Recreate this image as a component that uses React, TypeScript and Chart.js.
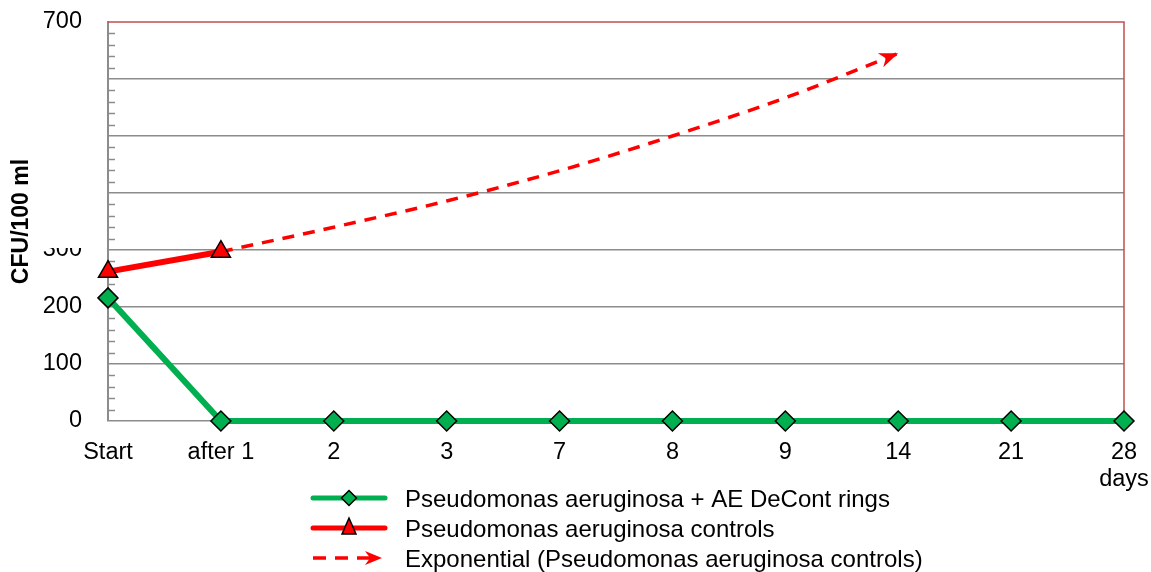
import React, { useEffect, useRef } from "react";
import { Chart, registerables } from "chart.js";

Chart.register(...registerables);

// Sampling days along the x axis
const dayLabels: (string | string[])[] = ["Start", "after 1", "2", "3", "7", "8", "9", "14", "21", ["28", "days"]];

// CFU/100 ml counts
const treatedCounts: (number | null)[] = [216, 0, 0, 0, 0, 0, 0, 0, 0, 0];
const controlCounts: (number | null)[] = [262, 297, null, null, null, null, null, null, null, null];
const controlTrend: (number | null)[] = [null, 297, 340, 386, 439, 500, 567, 645, null, null];

// Y axis values that carry a printed label
const yLabelValues = [0, 100, 200, 300, 700];

const legendNames = [
  "Pseudomonas aeruginosa + AE DeCont rings",
  "Pseudomonas aeruginosa controls",
  "Exponential (Pseudomonas aeruginosa controls)",
];

const GREEN = "#00b050";
const RED = "#ff0000";
const GRID = "#8c8c8c";
const FRAME = "#c0504d";
const FONT = "'Liberation Sans', Arial, sans-serif";

function drawArrowHead(ctx: CanvasRenderingContext2D, x: number, y: number, angle: number, len: number, half: number) {
  ctx.save();
  ctx.translate(x, y);
  ctx.rotate(angle);
  ctx.beginPath();
  ctx.moveTo(0, 0);
  ctx.lineTo(-len, -half);
  ctx.lineTo(-len * 0.7, 0);
  ctx.lineTo(-len, half);
  ctx.closePath();
  ctx.fillStyle = RED;
  ctx.fill();
  ctx.restore();
}

const framePlugin = {
  id: "frame",
  beforeDatasetsDraw(chart: any) {
    const { ctx, chartArea, scales } = chart;
    const y = scales.y;
    ctx.save();
    // minor ticks inside the value axis
    ctx.strokeStyle = GRID;
    ctx.lineWidth = 1.5;
    for (let v = 0; v <= 700; v += 20) {
      if (v % 100 === 0) continue;
      const py = Math.round(y.getPixelForValue(v)) + 0.5;
      ctx.beginPath();
      ctx.moveTo(chartArea.left, py);
      ctx.lineTo(chartArea.left + 7, py);
      ctx.stroke();
    }
    // top and right edges of the plot area
    ctx.strokeStyle = FRAME;
    ctx.lineWidth = 1.5;
    ctx.beginPath();
    ctx.moveTo(chartArea.left, chartArea.top);
    ctx.lineTo(chartArea.right, chartArea.top);
    ctx.lineTo(chartArea.right, chartArea.bottom);
    ctx.stroke();
    ctx.restore();
  },
  afterDatasetsDraw(chart: any) {
    const { ctx } = chart;
    // arrow head at the end of the exponential trend
    const meta = chart.getDatasetMeta(2);
    let last = -1;
    controlTrend.forEach((v, i) => {
      if (v !== null) last = i;
    });
    if (last > 0) {
      const p = meta.data[last];
      const q = meta.data[last - 1];
      const ang = Math.atan2(p.y - q.y, p.x - q.x);
      drawArrowHead(ctx, p.x, p.y, ang, 19, 7.5);
    }
  },
  afterDraw(chart: any) {
    const { ctx } = chart;
    ctx.save();
    // mask across the upper part of the value labels
    ctx.fillStyle = "#ffffff";
    ctx.fillRect(36, 236, 60, 12);

    // legend
    const x0 = 313;
    const x1 = 385;
    const tx = 405;
    const rows = [498, 528, 558];
    ctx.lineCap = "round";
    // treated
    ctx.strokeStyle = GREEN;
    ctx.lineWidth = 5;
    ctx.beginPath();
    ctx.moveTo(x0, rows[0]);
    ctx.lineTo(x1, rows[0]);
    ctx.stroke();
    const mx = (x0 + x1) / 2;
    ctx.beginPath();
    ctx.moveTo(mx, rows[0] - 7.5);
    ctx.lineTo(mx + 7.5, rows[0]);
    ctx.lineTo(mx, rows[0] + 7.5);
    ctx.lineTo(mx - 7.5, rows[0]);
    ctx.closePath();
    ctx.fillStyle = GREEN;
    ctx.fill();
    ctx.lineWidth = 1.5;
    ctx.strokeStyle = "#000";
    ctx.stroke();
    // controls
    ctx.strokeStyle = RED;
    ctx.lineWidth = 5;
    ctx.beginPath();
    ctx.moveTo(x0, rows[1]);
    ctx.lineTo(x1, rows[1]);
    ctx.stroke();
    ctx.beginPath();
    ctx.moveTo(mx, rows[1] - 10);
    ctx.lineTo(mx + 7, rows[1] + 6);
    ctx.lineTo(mx - 7, rows[1] + 6);
    ctx.closePath();
    ctx.fillStyle = RED;
    ctx.fill();
    ctx.lineWidth = 1.5;
    ctx.strokeStyle = "#000";
    ctx.lineJoin = "miter";
    ctx.stroke();
    // trend
    ctx.lineCap = "butt";
    ctx.strokeStyle = RED;
    ctx.lineWidth = 3.5;
    ctx.setLineDash([13, 9]);
    ctx.beginPath();
    ctx.moveTo(x0, rows[2]);
    ctx.lineTo(375, rows[2]);
    ctx.stroke();
    ctx.setLineDash([]);
    drawArrowHead(ctx, 382, rows[2], 0, 17, 7);

    ctx.fillStyle = "#000";
    ctx.font = `24px ${FONT}`;
    ctx.textBaseline = "middle";
    ctx.textAlign = "left";
    legendNames.forEach((t, i) => ctx.fillText(t, tx, rows[i] + 2));
    ctx.restore();
  },
};

export default function App() {
  const ref = useRef<HTMLCanvasElement | null>(null);

  useEffect(() => {
    document.body.style.margin = "0";
    const canvas = ref.current;
    if (!canvas) return;
    const chart = new Chart(canvas, {
      type: "line",
      data: {
        labels: dayLabels as any,
        datasets: [
          {
            label: legendNames[0],
            data: treatedCounts,
            borderColor: GREEN,
            backgroundColor: GREEN,
            borderWidth: 6,
            pointStyle: "rectRot",
            pointRadius: 10,
            pointBackgroundColor: GREEN,
            pointBorderColor: "#000",
            pointBorderWidth: 1.5,
            clip: false,
            order: 1,
          },
          {
            label: legendNames[1],
            data: controlCounts,
            borderColor: RED,
            backgroundColor: RED,
            borderWidth: 6,
            pointStyle: "triangle",
            pointRadius: 11,
            pointBackgroundColor: RED,
            pointBorderColor: "#000",
            pointBorderWidth: 1.5,
            spanGaps: false,
            clip: false,
            order: 0,
          },
          {
            label: legendNames[2],
            data: controlTrend,
            borderColor: RED,
            borderWidth: 3.5,
            borderDash: [12, 9],
            pointRadius: 0,
            cubicInterpolationMode: "monotone",
            clip: false,
            order: 2,
          },
        ],
      },
      options: {
        responsive: false,
        animation: false,
        layout: { padding: { left: 0, top: 22, right: 27, bottom: 71 } },
        plugins: {
          legend: { display: false },
          tooltip: { enabled: false },
        },
        scales: {
          x: {
            type: "category",
            offset: false,
            grid: { display: false, drawTicks: false },
            border: { display: false },
            ticks: {
              autoSkip: false,
              maxRotation: 0,
              padding: 18,
              color: "#000",
              font: { family: FONT, size: 23.5, lineHeight: 1.15 },
            },
            afterFit(scale: any) {
              scale.height = 80;
              scale.paddingLeft = 0;
              scale.paddingRight = 0;
            },
          },
          y: {
            min: 0,
            max: 700,
            grid: {
              color: (c: any) => (c.tick && c.tick.value === 700 ? "rgba(0,0,0,0)" : GRID),
              lineWidth: 1.5,
              drawTicks: false,
            },
            border: { color: GRID, width: 2 },
            ticks: {
              stepSize: 100,
              padding: 26,
              color: "#000",
              font: { family: FONT, size: 23.5 },
              callback: (v: any) => (yLabelValues.includes(Number(v)) ? String(v) : ""),
            },
            title: {
              display: true,
              text: "CFU/100 ml",
              color: "#000",
              font: { family: FONT, size: 23, weight: "bold" },
              padding: { top: 8, bottom: 0 },
            },
            afterFit(scale: any) {
              scale.width = 108;
              scale.paddingTop = 0;
              scale.paddingBottom = 0;
            },
          },
        },
      },
      plugins: [framePlugin],
    });
    return () => chart.destroy();
  }, []);

  return <canvas ref={ref} width={1151} height={572} style={{ display: "block" }} />;
}
